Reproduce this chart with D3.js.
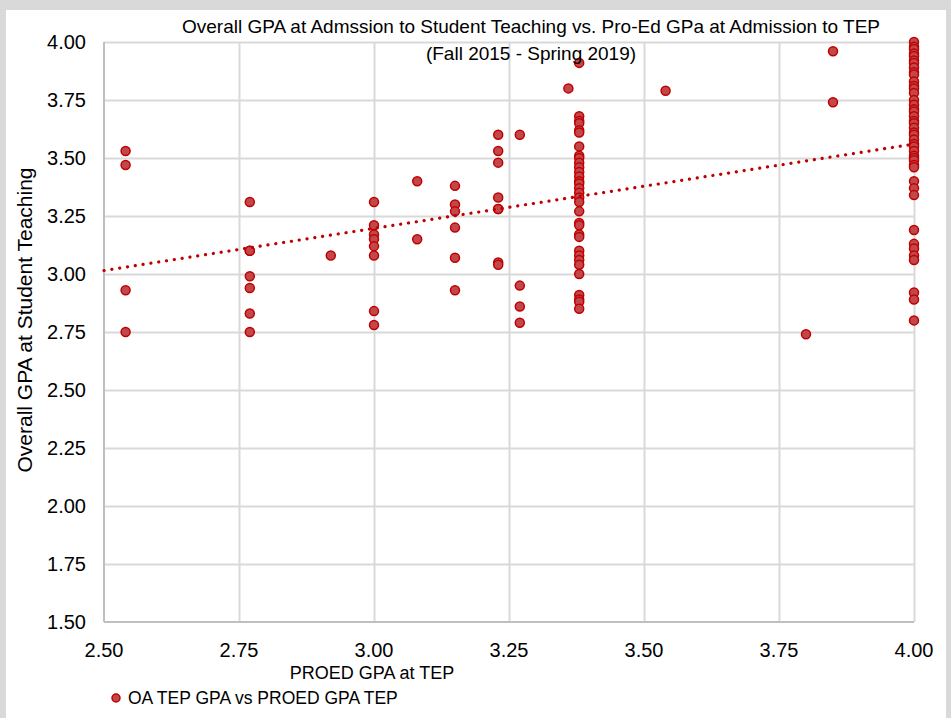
<!DOCTYPE html>
<html lang="en">
<head>
    <meta charset="utf-8">
    <script src="https://cdn.jsdelivr.net/npm/d3@7"></script>
    <style type="text/css">
        body { margin: 0; background: #d9d9d9; }
        text { font-family: "Liberation Sans", Arial, sans-serif; fill: #000; }
        .grid line { stroke: #d9d9d9; stroke-width: 2; }
        .grid path { display: none; }
    </style>
</head>
<body>
<script>
    // x values (PROED GPA at TEP) and the overall GPAs stacked at each one
    let proedGpa = [2.54, 2.77, 2.92, 3.00, 3.08, 3.15, 3.23, 3.27, 3.36, 3.38, 3.54, 3.80, 3.85, 4.00];
    let overallGpa = [
        [3.53, 3.47, 2.93, 2.75],
        [3.31, 3.10, 3.10, 2.99, 2.94, 2.83, 2.75],
        [3.08],
        [3.31, 3.21, 3.17, 3.15, 3.12, 3.08, 2.84, 2.78],
        [3.40, 3.15],
        [3.38, 3.30, 3.27, 3.20, 3.07, 2.93],
        [3.60, 3.53, 3.48, 3.33, 3.28, 3.28, 3.05, 3.04],
        [3.60, 2.95, 2.86, 2.79],
        [3.80],
        [3.91, 3.68, 3.66, 3.65, 3.62, 3.61, 3.55, 3.51, 3.50, 3.48, 3.46, 3.44, 3.42, 3.40, 3.39, 3.37,
         3.35, 3.33, 3.31, 3.27, 3.22, 3.21, 3.17, 3.16, 3.10, 3.08, 3.06, 3.04, 3.00, 2.91, 2.89, 2.88, 2.85],
        [3.79],
        [2.74],
        [3.96, 3.74],
        [4.00, 3.98, 3.97, 3.95, 3.94, 3.92, 3.91, 3.89, 3.87, 3.86, 3.83, 3.81, 3.80, 3.78, 3.75, 3.73,
         3.71, 3.70, 3.68, 3.66, 3.65, 3.63, 3.61, 3.60, 3.58, 3.56, 3.55, 3.53, 3.51, 3.50, 3.49, 3.47,
         3.46, 3.40, 3.37, 3.34, 3.19, 3.13, 3.11, 3.08, 3.06, 2.92, 2.89, 2.80]
    ];
    let xTicks = [2.50, 2.75, 3.00, 3.25, 3.50, 3.75, 4.00];
    let yTicks = [1.50, 1.75, 2.00, 2.25, 2.50, 2.75, 3.00, 3.25, 3.50, 3.75, 4.00];
    // linear trendline
    let trendX = [2.50, 4.00];
    let trendY = [3.015, 3.56];

    let w = 951, h = 718;
    let plotLeft = 104, plotRight = 914, plotTop = 42, plotBottom = 622;

    let points = [];
    proedGpa.forEach((x, i) => overallGpa[i].forEach(y => points.push({x, y})));

    let svg = d3.select("body").append("svg")
        .attr("width", w)
        .attr("height", h)
        .style("display", "block");

    // gray frame around the chart
    svg.append("rect").attr("x", 0).attr("y", 0).attr("width", w).attr("height", h).attr("fill", "#d9d9d9");
    svg.append("rect").attr("x", 6).attr("y", 10).attr("width", w - 11).attr("height", h - 10).attr("fill", "#fff");

    let xScale = d3.scaleLinear().domain([2.5, 4]).range([plotLeft, plotRight]);
    let yScale = d3.scaleLinear().domain([1.5, 4]).range([plotBottom, plotTop]);

    svg.append("g")
        .attr("class", "grid")
        .attr("transform", `translate(0,${plotBottom})`)
        .call(d3.axisBottom(xScale).tickValues(xTicks.slice(1)).tickSize(-(plotBottom - plotTop)).tickFormat(""));

    svg.append("g")
        .attr("class", "grid")
        .attr("transform", `translate(${plotLeft},0)`)
        .call(d3.axisLeft(yScale).tickValues(yTicks.slice(1)).tickSize(-(plotRight - plotLeft)).tickFormat(""));

    // axis lines
    svg.append("line").attr("x1", plotLeft).attr("x2", plotLeft).attr("y1", plotTop).attr("y2", plotBottom)
        .attr("stroke", "#bfbfbf").attr("stroke-width", 2);
    svg.append("line").attr("x1", plotLeft).attr("x2", plotRight).attr("y1", plotBottom).attr("y2", plotBottom)
        .attr("stroke", "#bfbfbf").attr("stroke-width", 2);

    // tick labels
    svg.selectAll(".xlab")
        .data(xTicks)
        .join("text")
        .attr("x", d => xScale(d))
        .attr("y", plotBottom + 35)
        .attr("text-anchor", "middle")
        .style("font-size", "20px")
        .text(d => d.toFixed(2));

    svg.selectAll(".ylab")
        .data(yTicks)
        .join("text")
        .attr("x", 86)
        .attr("y", d => yScale(d) + 7)
        .attr("text-anchor", "end")
        .style("font-size", "20px")
        .text(d => d.toFixed(2));

    // points
    svg.append("g")
        .selectAll("circle")
        .data(points)
        .join("circle")
        .attr("cx", d => xScale(d.x))
        .attr("cy", d => yScale(d.y))
        .attr("r", 4.5)
        .attr("fill", "#c2474a")
        .attr("stroke", "#c00000")
        .attr("stroke-width", 1.5);

    // dotted trendline
    svg.append("line")
        .attr("x1", xScale(trendX[0])).attr("y1", yScale(trendY[0]))
        .attr("x2", xScale(trendX[1])).attr("y2", yScale(trendY[1]))
        .attr("stroke", "#c00000")
        .attr("stroke-width", 3.2)
        .attr("stroke-linecap", "round")
        .attr("stroke-dasharray", "0.1 7.8");

    // titles
    svg.append("text")
        .attr("x", 531).attr("y", 33)
        .attr("text-anchor", "middle")
        .style("font-size", "19px")
        .text("Overall GPA at Admssion to Student Teaching vs. Pro-Ed GPa at Admission to TEP");
    svg.append("text")
        .attr("x", 531).attr("y", 60)
        .attr("text-anchor", "middle")
        .style("font-size", "19px")
        .text("(Fall 2015 - Spring 2019)");

    svg.append("text")
        .attr("transform", "translate(32,320) rotate(-90)")
        .attr("text-anchor", "middle")
        .style("font-size", "21px")
        .text("Overall GPA at Student Teaching");

    svg.append("text")
        .attr("x", 372).attr("y", 679)
        .attr("text-anchor", "middle")
        .style("font-size", "18px")
        .text("PROED GPA at TEP");

    // legend
    svg.append("circle")
        .attr("cx", 116).attr("cy", 698).attr("r", 4)
        .attr("fill", "#c2474a").attr("stroke", "#c00000").attr("stroke-width", 1.5);
    svg.append("text")
        .attr("x", 128).attr("y", 704)
        .style("font-size", "17.5px")
        .text("OA TEP GPA vs PROED GPA TEP");
</script>
</body>
</html>
